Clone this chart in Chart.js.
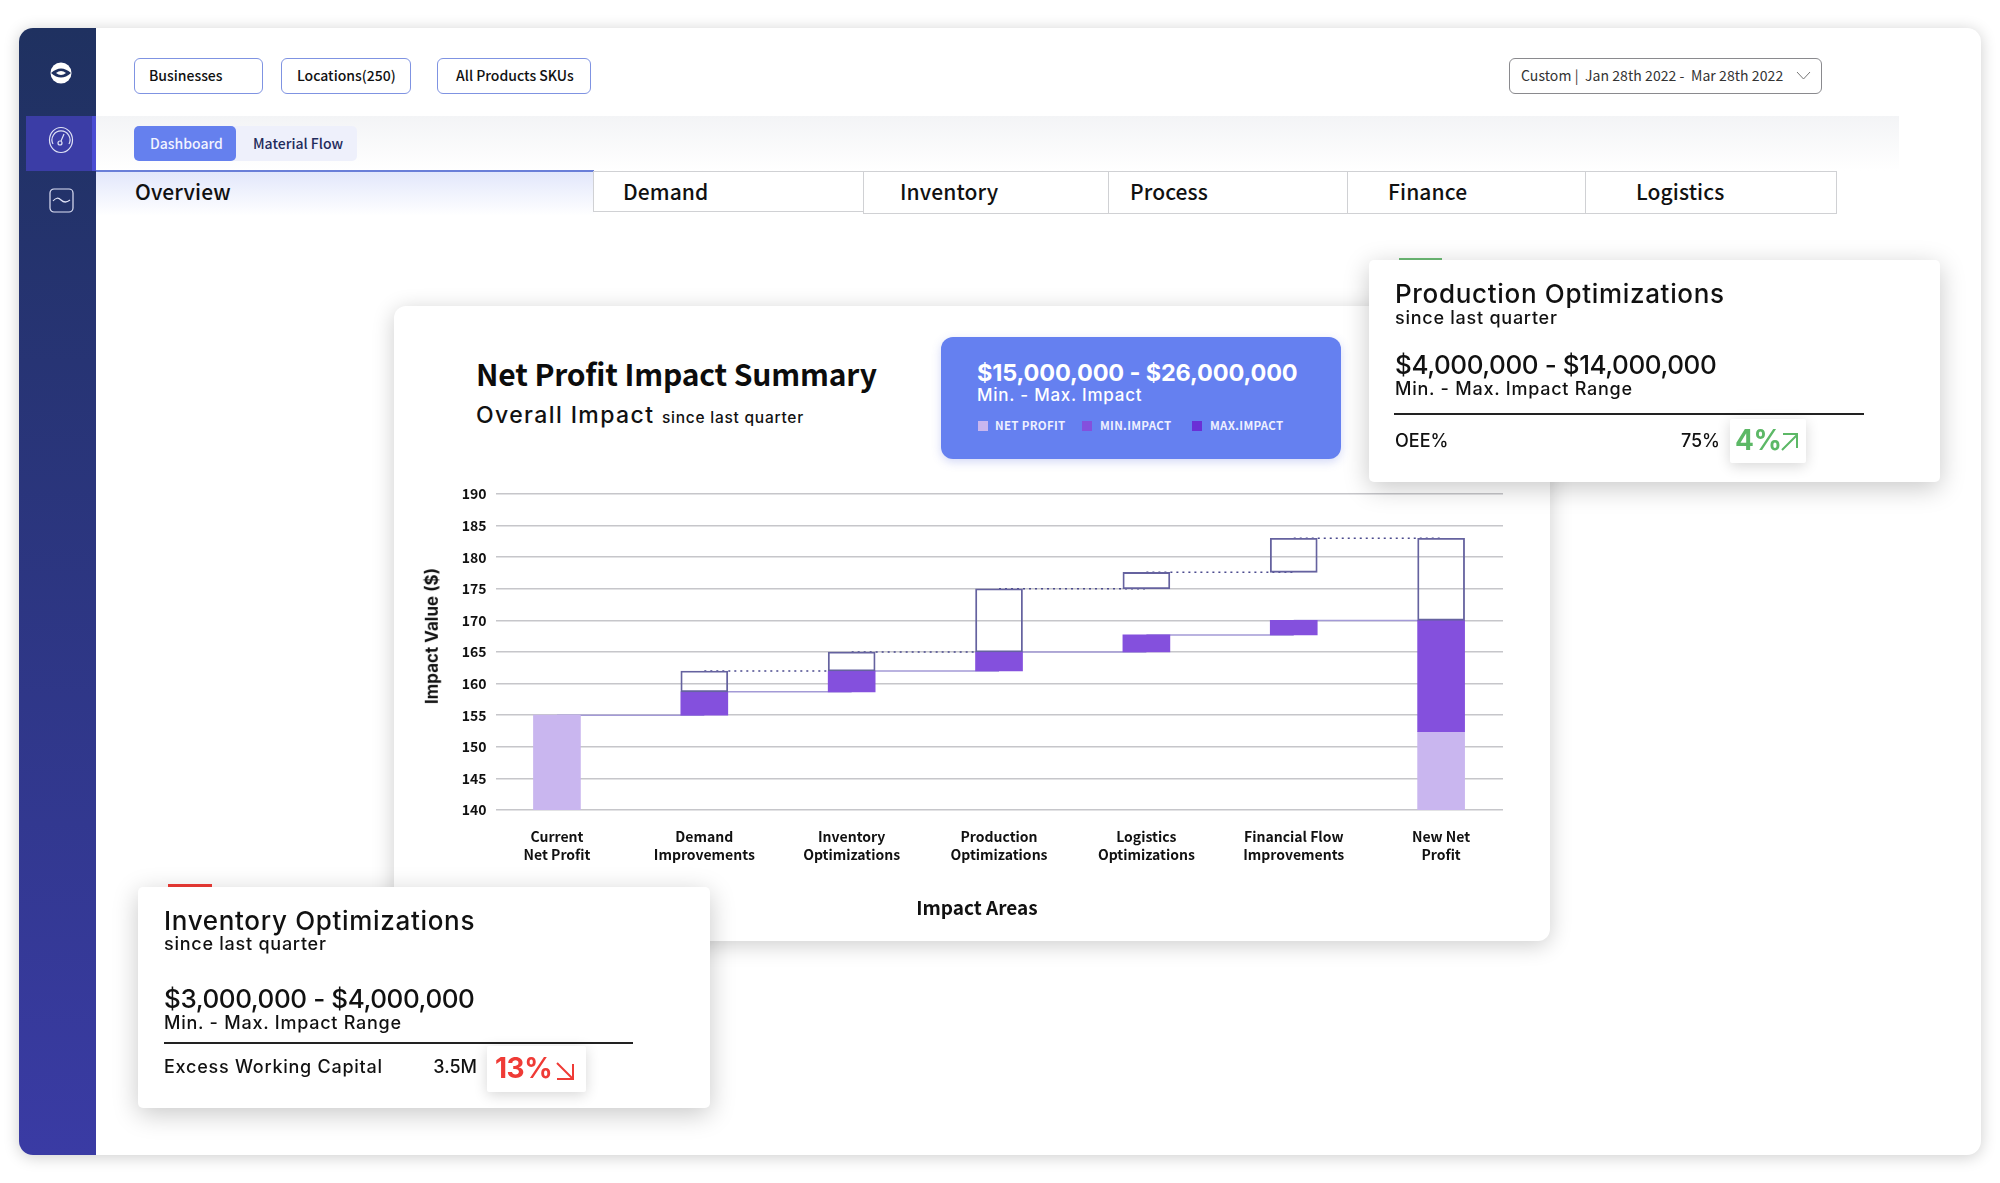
<!DOCTYPE html>
<html>
<head>
<meta charset="utf-8">
<title>Net Profit Impact Summary</title>
<script src="https://cdn.jsdelivr.net/npm/chart.js@4"></script>
<style>
html, body { margin: 0; padding: 0; background: #fff; width: 2000px; height: 1183px; overflow: hidden; }
body { font-family: "Noto Sans CJK JP", "Noto Sans", sans-serif; color: #111; }
.box { position: absolute; box-sizing: border-box; }
.t { position: absolute; transform: translateY(-50%); white-space: nowrap; line-height: 1.2; }
.m { font-family: Inter, "Noto Sans", sans-serif; font-weight: 500; }
.big { font-size: 26px; letter-spacing: .68px; }
.money { font-size: 26px; letter-spacing: -.42px; }
.small { font-size: 18px; letter-spacing: .75px; }
.btn { top: 58px; height: 36px; border: 1.5px solid #7f93e2; border-radius: 6px; background: #fff; }
.btnText { top: 74.5px; font-size: 14px; font-weight: 500; }
.tab { top: 171px; height: 43px; border: 1.5px solid #d0d1d4; background: #fff; }
.tabText { top: 192px; font-size: 21px; font-weight: 500; letter-spacing: .1px; }
.card { background: #fff; border-radius: 5px; box-shadow: 0 6px 26px rgba(0,0,0,.22); z-index: 3; }
.badge { background: #fff; border-radius: 2px; box-shadow: 0 3px 14px rgba(0,0,0,.16); z-index: 4; }
.legText { top: 426px; font-size: 11.5px; font-weight: 700; color: #eef0ff; letter-spacing: .3px; }
.legBox { top: 421px; width: 10px; height: 10px; }
svg { position: absolute; }
</style>
</head>
<body>
<!-- page shell -->
<div class="box" style="left:19px;top:28px;width:1962px;height:1127px;background:#fff;border-radius:14px;box-shadow:0 2px 16px rgba(0,0,0,.2);"></div>
<div class="box" style="left:19px;top:28px;width:77px;height:1127px;background:linear-gradient(#1f3160,#3a3ba4);border-radius:14px 0 0 14px;"></div>
<div class="box" style="left:26px;top:116px;width:70px;height:55px;background:#3b3da6;border-right:4px solid #4a4cd2;"></div>
<svg style="left:48px;top:60px" width="26" height="26" viewBox="0 0 26 26">
  <circle cx="13" cy="13" r="10.5" fill="#fff"/>
  <path d="M3 13 Q13 4 23 13 Q13 22 3 13Z" fill="#1f3160"/>
  <path d="M8 13 Q13 9 18 13 Q13 17 8 13Z" fill="#fff"/>
</svg>
<svg style="left:48px;top:126px" width="26" height="28" viewBox="0 0 26 28" fill="none" stroke="#dfe2f5" stroke-width="1.2">
  <ellipse cx="13" cy="14" rx="11.5" ry="12.5"/>
  <path d="M5 18 A9 9 0 1 1 21 18"/>
  <circle cx="12" cy="17" r="2"/>
  <path d="M13 15 L16 8"/>
</svg>
<svg style="left:49px;top:188px" width="25" height="25" viewBox="0 0 25 25" fill="none" stroke="#dfe2f5" stroke-width="1.2">
  <rect x="1" y="1" width="23" height="23" rx="4"/>
  <path d="M4 13 Q8 8 12 12 T21 12"/>
</svg>

<!-- filter row -->
<div class="box btn" style="left:134px;width:129px;"></div>
<div class="t btnText" style="left:149px;">Businesses</div>
<div class="box btn" style="left:281px;width:130px;"></div>
<div class="t btnText" style="left:297px;">Locations(250)</div>
<div class="box btn" style="left:437px;width:154px;"></div>
<div class="t btnText" style="left:456px;">All Products SKUs</div>
<div class="box btn" style="left:1509px;width:313px;border-color:#8a8a8e;"></div>
<div class="t btnText" style="left:1521px;font-weight:400;color:#333;letter-spacing:.07px;">Custom |&nbsp; Jan 28th 2022 -&nbsp; Mar 28th 2022</div>
<svg style="left:1796px;top:71px" width="15" height="9" viewBox="0 0 15 9" fill="none" stroke="#777" stroke-width="1"><path d="M1 1 L7.5 8 L14 1"/></svg>

<!-- sub nav -->
<div class="box" style="left:96px;top:116px;width:1803px;height:55px;background:linear-gradient(#f3f4f6,#fff);"></div>
<div class="box" style="left:134px;top:126px;width:223px;height:35px;background:#eef0fb;border-radius:5px;"></div>
<div class="box" style="left:134px;top:126px;width:102px;height:35px;background:#6580ee;border-radius:5px;"></div>
<div class="t btnText" style="left:150px;top:143px;color:#f2f4ff;">Dashboard</div>
<div class="t btnText" style="left:253px;top:143px;color:#1f2b5c;">Material Flow</div>

<!-- tabs -->
<div class="box" style="left:96px;top:170px;width:498px;height:46px;border-top:2px solid #6a7fd8;background:linear-gradient(#e2e7fb,#fff);"></div>
<div class="box tab" style="left:593px;width:272px;height:41px;"></div>
<div class="box tab" style="left:863px;width:247px;"></div>
<div class="box tab" style="left:1108px;width:241px;"></div>
<div class="box tab" style="left:1347px;width:240px;"></div>
<div class="box tab" style="left:1585px;width:252px;"></div>
<div class="t tabText" style="left:135px;">Overview</div>
<div class="t tabText" style="left:623px;">Demand</div>
<div class="t tabText" style="left:900px;">Inventory</div>
<div class="t tabText" style="left:1130px;">Process</div>
<div class="t tabText" style="left:1388px;">Finance</div>
<div class="t tabText" style="left:1636px;">Logistics</div>

<!-- main card -->
<div class="box" style="left:394px;top:306px;width:1156px;height:635px;background:#fff;border-radius:12px;box-shadow:0 4px 22px rgba(0,0,0,.2);"></div>
<div class="t" style="left:476px;top:373px;font-size:30px;font-weight:700;color:#0c0c0c;letter-spacing:-.15px;">Net Profit Impact Summary</div>
<div class="t m" style="left:476px;top:416px;font-size:23px;letter-spacing:1.4px;">Overall Impact</div>
<div class="t m" style="left:662px;top:418px;font-size:15.5px;letter-spacing:.75px;">since last quarter</div>

<!-- blue summary box -->
<div class="box" style="left:941px;top:337px;width:400px;height:122px;background:#6580f0;border-radius:12px;box-shadow:0 3px 10px rgba(80,100,220,.25);"></div>
<div class="t m" style="left:977px;top:373px;font-size:23.5px;font-weight:700;color:#fff;letter-spacing:-.15px;">$15,000,000 - $26,000,000</div>
<div class="t m" style="left:977px;top:395px;font-size:17px;color:#fff;letter-spacing:.75px;">Min. - Max. Impact</div>
<div class="box legBox" style="left:978px;background:#c9b6ef;"></div>
<div class="t legText" style="left:995px;">NET PROFIT</div>
<div class="box legBox" style="left:1082px;background:#8450dd;"></div>
<div class="t legText" style="left:1100px;">MIN.IMPACT</div>
<div class="box legBox" style="left:1192px;background:#6a2fd6;"></div>
<div class="t legText" style="left:1210px;">MAX.IMPACT</div>

<!-- chart -->
<canvas id="impactChart" width="1120" height="450" style="position:absolute;left:400px;top:470px;z-index:2;"></canvas>
<div class="t" style="left:432px;top:636px;font-size:17px;font-weight:700;transform:translate(-50%,-50%) rotate(-90deg);z-index:2;font-family:Inter,sans-serif;">Impact Value ($)</div>
<div class="t" style="left:977px;top:907px;font-size:19px;font-weight:700;transform:translate(-50%,-50%);z-index:2;">Impact Areas</div>

<!-- production card -->
<div class="box" style="left:1399px;top:258px;width:43px;height:4px;background:#6dbb75;z-index:2;"></div>
<div class="box card" style="left:1369px;top:260px;width:571px;height:222px;"></div>
<div class="t m big" style="left:1395px;top:294px;z-index:4;">Production Optimizations</div>
<div class="t m small" style="left:1395px;top:318px;z-index:4;">since last quarter</div>
<div class="t m money" style="left:1395px;top:365px;z-index:4;">$4,000,000 - $14,000,000</div>
<div class="t m small" style="left:1395px;top:389px;z-index:4;">Min. - Max. Impact Range</div>
<div class="box" style="left:1394px;top:413px;width:470px;height:1.5px;background:#222;z-index:4;"></div>
<div class="t m" style="left:1395px;top:441px;font-size:18px;z-index:4;">OEE%</div>
<div class="t m" style="right:280px;top:441px;font-size:18px;z-index:4;">75%</div>
<div class="box badge" style="left:1730px;top:419px;width:76px;height:44px;"></div>
<div class="t m" style="left:1735px;top:441px;font-size:28px;font-weight:700;letter-spacing:-.5px;color:#5cb866;z-index:5;">4%</div>
<svg style="left:1780px;top:432px;z-index:5" width="19" height="19" viewBox="0 0 19 19" fill="none" stroke="#5cb866" stroke-width="2"><path d="M2 18 L17 3 M3 2 H17 V16"/></svg>

<!-- inventory card -->
<div class="box" style="left:168px;top:884px;width:44px;height:4px;background:#ef3b36;z-index:2;"></div>
<div class="box card" style="left:138px;top:887px;width:572px;height:221px;"></div>
<div class="t m big" style="left:164px;top:921px;z-index:4;">Inventory Optimizations</div>
<div class="t m small" style="left:164px;top:944px;z-index:4;">since last quarter</div>
<div class="t m money" style="left:164px;top:999px;z-index:4;">$3,000,000 - $4,000,000</div>
<div class="t m small" style="left:164px;top:1023px;z-index:4;">Min. - Max. Impact Range</div>
<div class="box" style="left:164px;top:1042px;width:469px;height:1.5px;background:#222;z-index:4;"></div>
<div class="t m small" style="left:164px;top:1067px;z-index:4;">Excess Working Capital</div>
<div class="t m" style="right:1523px;top:1067px;font-size:18px;z-index:4;">3.5M</div>
<div class="box badge" style="left:487px;top:1046px;width:99px;height:46px;"></div>
<div class="t m" style="left:495px;top:1069px;font-size:28px;font-weight:700;letter-spacing:-.5px;color:#ef3b36;z-index:5;">13%</div>
<svg style="left:555px;top:1061px;z-index:5" width="20" height="20" viewBox="0 0 20 20" fill="none" stroke="#ef3b36" stroke-width="2"><path d="M2 2 L18 18 M2 18 H18 V3"/></svg>

<script>
// chart values
const categories = [
    ['Current', 'Net Profit'],
    ['Demand', 'Improvements'],
    ['Inventory', 'Optimizations'],
    ['Production', 'Optimizations'],
    ['Logistics', 'Optimizations'],
    ['Financial Flow', 'Improvements'],
    ['New Net', 'Profit']
];
const yTicks = [140, 145, 150, 155, 160, 165, 170, 175, 180, 185, 190];
const netProfitLow = [140, null, null, null, null, null, 140];
const netProfitTop = [155, null, null, null, null, null, 152.4];
const minImpactLow = [null, 155, 158.7, 162, 165, 167.7, 152.4];
const minImpactHigh = [null, 158.7, 162, 165, 167.7, 170, 170];
const maxImpactLow = [null, 158.7, 162, 165, 175, 177.6, 170];
const maxImpactHigh = [null, 162, 165, 175, 177.6, 183, 183];
const runningTotal = [155, 158.7, 162, 165, 167.7, 170];
const maxLevels = [162, 165, 175, 177.6, 183];

const barFont = '"Noto Sans CJK JP", sans-serif';

function floatBars(lows, highs) {
    const out = [];
    highs.forEach((h, i) => {
        if (h !== null) out.push({ x: i, y: [lows[i], h] });
    });
    return out;
}

// links between neighbouring bars, hidden behind the bars at their ends
const connectors = [];
runningTotal.forEach((v, i) => {
    connectors.push({
        type: 'line',
        data: [{ x: i, y: v }, { x: i + 1, y: v }],
        borderColor: '#a39ad6',
        borderWidth: 1.5,
        pointRadius: 0,
        order: 5
    });
});
maxLevels.forEach((v, i) => {
    connectors.push({
        type: 'line',
        data: [{ x: i + 1, y: v }, { x: i + 2, y: v }],
        borderColor: '#4b4a8e',
        borderWidth: 1.5,
        borderDash: [2, 4],
        pointRadius: 0,
        order: 4
    });
});

new Chart(document.getElementById('impactChart'), {
    type: 'bar',
    data: {
        datasets: [
            ...connectors,
            {
                label: 'Net Profit',
                data: floatBars(netProfitLow, netProfitTop),
                backgroundColor: '#c9b6ef',
                barThickness: 47,
                grouped: false,
                order: 3
            },
            {
                label: 'Min. Impact',
                data: floatBars(minImpactLow, minImpactHigh),
                backgroundColor: '#8450dd',
                barThickness: 47,
                grouped: false,
                order: 2
            },
            {
                label: 'Max. Impact',
                data: floatBars(maxImpactLow, maxImpactHigh),
                backgroundColor: 'rgba(255,255,255,0)',
                borderColor: '#65629f',
                borderWidth: 1.2,
                borderSkipped: false,
                barThickness: 47,
                grouped: false,
                order: 1
            }
        ]
    },
    options: {
        responsive: false,
        animation: false,
        layout: { padding: { top: 24, right: 17, left: 0, bottom: 0 } },
        plugins: { legend: { display: false }, tooltip: { enabled: false } },
        scales: {
            x: {
                type: 'linear',
                offset: false,
                min: -0.417,
                max: 6.42,
                grid: { display: false },
                border: { display: false },
                afterBuildTicks: axis => {
                    axis.ticks = categories.map((c, i) => ({ value: i }));
                },
                afterFit: axis => { axis.height = 110; },
                ticks: {
                    autoSkip: false,
                    maxRotation: 0,
                    padding: 10,
                    color: '#111',
                    font: { family: barFont, size: 14, weight: 'bold', lineHeight: 1.27 },
                    callback: v => categories[v]
                }
            },
            y: {
                min: yTicks[0],
                max: yTicks[yTicks.length - 1],
                grid: { color: '#c6c6ca', lineWidth: 1.5, drawTicks: false },
                border: { display: false },
                afterFit: axis => { axis.width = 95.5; },
                ticks: {
                    stepSize: 5,
                    padding: 9,
                    color: '#111',
                    font: { family: barFont, size: 14, weight: 'bold' }
                }
            }
        }
    }
});
</script>
</body>
</html>
